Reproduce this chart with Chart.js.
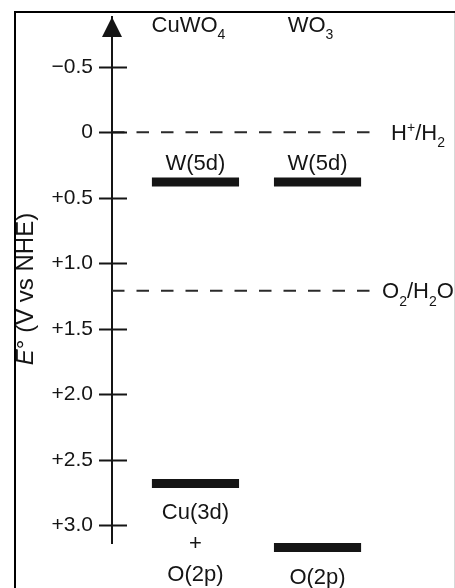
<!DOCTYPE html>
<html>
<head>
<meta charset="utf-8">
<title>Band edges</title>
<script src="https://cdn.jsdelivr.net/npm/chart.js@4/dist/chart.umd.min.js"></script>
<style>
  html, body { margin: 0; padding: 0; background: #fff; }
  canvas { display: block; }
</style>
</head>
<body>
<canvas id="chart-levels" width="455" height="588"></canvas>
<script>
// ---- Data ----
// '_x' marks a subscript character, '^x' a superscript one
const materials = ['CuWO_4', 'WO_3'];
const cbLevels = [0.38, 0.38];            // conduction band edge, V vs NHE
const cbLabels = [['W(5d)'], ['W(5d)']];
const vbLevels = [2.68, 3.17];            // valence band edge, V vs NHE
const vbLabels = [['Cu(3d)', '+', 'O(2p)'], ['O(2p)']];
const redoxLevels = [0, 1.21];
const redoxLabels = ['H^+/H_2', 'O_2/H_2O'];
const tickValues = [-0.5, 0, 0.5, 1.0, 1.5, 2.0, 2.5, 3.0];
const tickLabels = ['\u22120.5', '0', '+0.5', '+1.0', '+1.5', '+2.0', '+2.5', '+3.0'];

// ---- Layout constants ----
const Y_MIN = -0.88, Y_MAX = 3.135;
const X_MIN = 0.316, X_MAX = 2.43;
const HALF_W = 0.357;
const FONT = '"Liberation Sans", Arial, Helvetica, sans-serif';
const INK = '#151515';

function drawRich(ctx, str, x, y, size, align) {
  const runs = [];
  for (let i = 0; i < str.length; i++) {
    const c = str[i];
    if ((c === '_' || c === '^') && i + 1 < str.length) {
      runs.push({ t: str[i + 1], kind: c });
      i++;
    } else {
      const last = runs[runs.length - 1];
      if (last && last.kind === '') last.t += c;
      else runs.push({ t: c, kind: '' });
    }
  }
  const small = Math.round(size * 0.64);
  const fontFor = k => `${k ? small : size}px ${FONT}`;
  let width = 0;
  for (const r of runs) {
    ctx.font = fontFor(r.kind);
    r.w = ctx.measureText(r.t).width;
    width += r.w;
  }
  let cx = align === 'center' ? x - width / 2 : align === 'right' ? x - width : x;
  ctx.textAlign = 'left';
  ctx.textBaseline = 'alphabetic';
  for (const r of runs) {
    ctx.font = fontFor(r.kind);
    const dy = r.kind === '_' ? size * 0.34 : r.kind === '^' ? -size * 0.36 : 0;
    ctx.fillText(r.t, cx, y + dy);
    cx += r.w;
  }
}

// Axis arrow, crossing tick marks, level/redox labels, frame
const diagramPlugin = {
  id: 'diagram',
  afterDatasetsDraw(chart) {
    const { ctx, chartArea, scales: { x, y } } = chart;
    const ax = chartArea.left;
    ctx.save();
    ctx.fillStyle = INK;
    ctx.strokeStyle = INK;

    // arrow head at the top of the axis
    ctx.beginPath();
    ctx.moveTo(ax, chartArea.top);
    ctx.lineTo(ax - 10, chartArea.top + 20);
    ctx.lineTo(ax + 10, chartArea.top + 20);
    ctx.closePath();
    ctx.fill();

    // tick marks crossing the axis
    ctx.lineWidth = 2;
    for (const v of tickValues) {
      const py = Math.round(y.getPixelForValue(v)) + 0.5;
      ctx.beginPath();
      ctx.moveTo(ax - 13, py);
      ctx.lineTo(ax + 15, py);
      ctx.stroke();
    }

    // material headers
    materials.forEach((m, i) => {
      drawRich(ctx, m, x.getPixelForValue(i + 1) - 7, 32, 22, 'center');
    });

    // orbital labels above / below each level
    materials.forEach((m, i) => {
      const cx = x.getPixelForValue(i + 1);
      cbLabels[i].forEach((t, k) => {
        drawRich(ctx, t, cx, y.getPixelForValue(cbLevels[i]) - 12 - k * 31, 22, 'center');
      });
      vbLabels[i].forEach((t, k) => {
        drawRich(ctx, t, cx, y.getPixelForValue(vbLevels[i]) + 36 + k * 31, 22, 'center');
      });
    });

    // redox couple labels at the end of the dashed lines
    redoxLevels.forEach((v, i) => {
      drawRich(ctx, redoxLabels[i], chartArea.right + 48, y.getPixelForValue(v) + 7.5, 22, 'center');
    });

    // y axis title, rotated, italic E
    ctx.translate(33, 289);
    ctx.rotate(-Math.PI / 2);
    ctx.textBaseline = 'alphabetic';
    ctx.textAlign = 'left';
    const rest = '\u00b0 (V vs NHE)';
    ctx.font = `italic 24px ${FONT}`;
    const wE = ctx.measureText('E').width;
    ctx.font = `24px ${FONT}`;
    const wRest = ctx.measureText(rest).width;
    const start = -(wE + wRest) / 2;
    ctx.font = `italic 24px ${FONT}`;
    ctx.fillText('E', start, 0);
    ctx.font = `24px ${FONT}`;
    ctx.fillText(rest, start + wE, 0);
    ctx.restore();
  },
  afterDraw(chart) {
    const { ctx, width, height } = chart;
    ctx.save();
    ctx.fillStyle = '#fff';
    ctx.fillRect(0, 0, width, 11);
    ctx.fillRect(0, 0, 14, height);
    ctx.fillStyle = '#000';
    ctx.fillRect(14, 11, width - 14, 2);
    ctx.fillRect(14, 11, 2, height - 11);
    ctx.fillStyle = '#d8d8d8';
    ctx.fillRect(width - 1, 13, 1, height - 13);
    ctx.restore();
  }
};

function levelDataset(i, value) {
  return {
    data: [{ x: i + 1 - HALF_W, y: value }, { x: i + 1 + HALF_W, y: value }],
    borderColor: INK,
    borderWidth: 9,
    borderCapStyle: 'butt',
    pointRadius: 0,
    clip: false
  };
}

function redoxDataset(value) {
  return {
    data: [{ x: X_MIN, y: value }, { x: X_MAX, y: value }],
    borderColor: '#2a2a2a',
    borderWidth: 2,
    borderDash: [12.5, 12],
    borderCapStyle: 'butt',
    pointRadius: 0,
    clip: false
  };
}

const datasets = [
  ...redoxLevels.map(v => redoxDataset(v)),
  ...materials.map((m, i) => levelDataset(i, cbLevels[i])),
  ...materials.map((m, i) => levelDataset(i, vbLevels[i]))
];

new Chart(document.getElementById('chart-levels'), {
  type: 'line',
  data: { datasets },
  options: {
    responsive: false,
    animation: false,
    devicePixelRatio: 1,
    events: [],
    layout: { padding: { top: 17, bottom: 45, left: 0, right: 85 } },
    plugins: { legend: { display: false }, tooltip: { enabled: false } },
    scales: {
      x: { type: 'linear', display: false, min: X_MIN, max: X_MAX },
      y: {
        type: 'linear',
        reverse: true,
        min: Y_MIN,
        max: Y_MAX,
        grid: { display: false, drawTicks: false },
        border: { display: true, color: INK, width: 2 },
        afterBuildTicks: s => { s.ticks = tickValues.map(v => ({ value: v })); },
        afterFit: s => { s.width = 112; s.paddingTop = 0; s.paddingBottom = 0; },
        ticks: {
          padding: 19,
          color: INK,
          font: { family: FONT, size: 21 },
          callback: (v) => tickLabels[tickValues.indexOf(v)] ?? ''
        }
      }
    }
  },
  plugins: [diagramPlugin]
});
</script>
</body>
</html>
